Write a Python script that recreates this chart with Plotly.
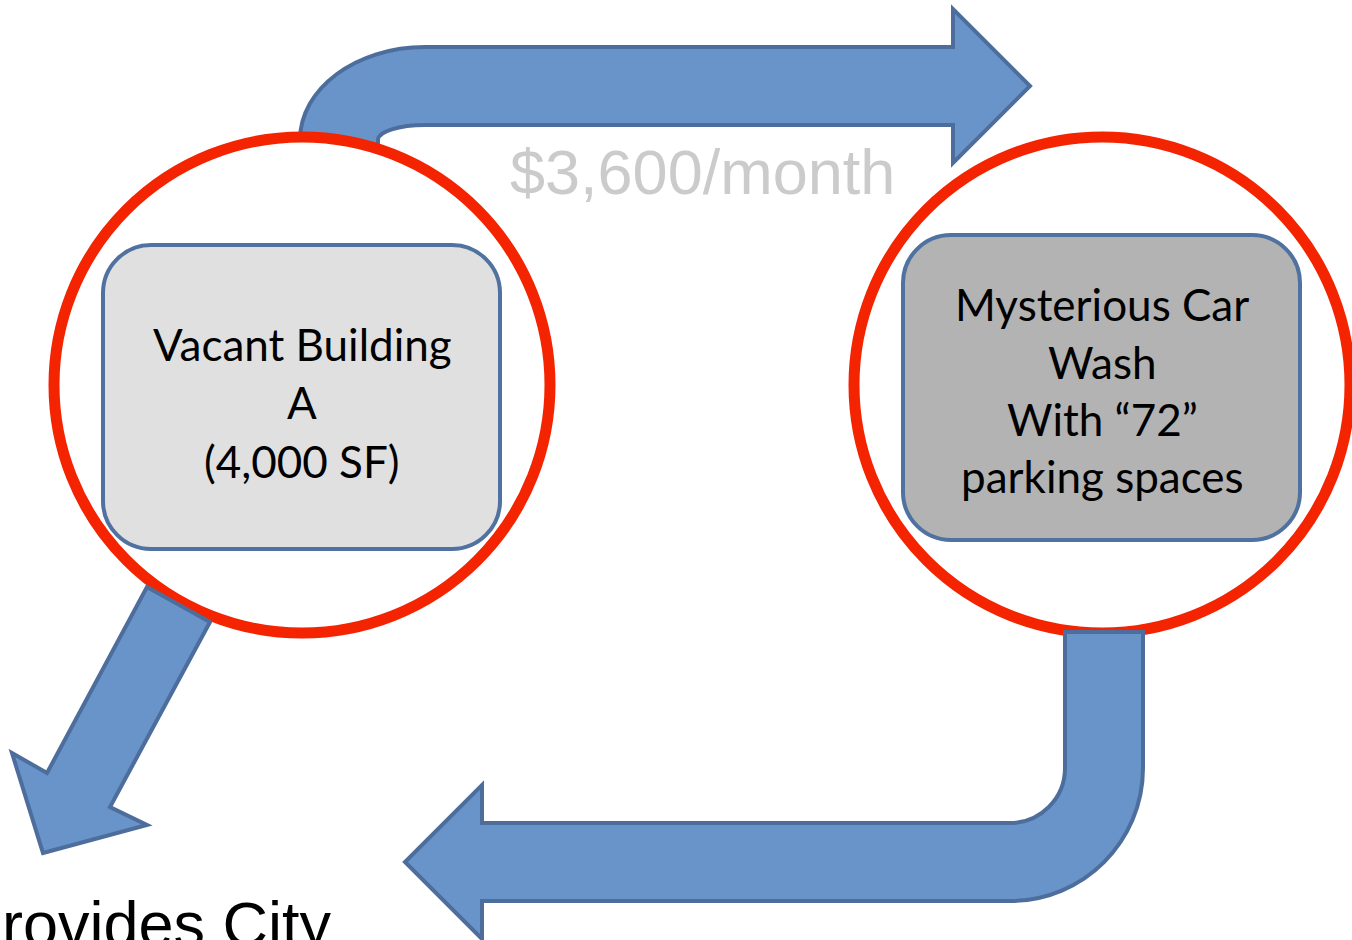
import numpy as np
import plotly.graph_objects as go

# ---- text content ----
left_lines = ["Vacant Building", "A", "(4,000 SF)"]
right_lines = ["Mysterious Car", "Wash", "With “72”", "parking spaces"]
rent_label = "$3,600/month"
bottom_label = "Provides City"

# ---- layout geometry (pixel space, y downward) ----
W, H = 1352, 940
left_center = (302, 385)
right_center = (1102, 385)
circle_r = 248
left_box = (103, 245, 500, 549)
right_box = (903, 235, 1300, 540)
box_r = 48
left_line_y = [344, 402, 461]
right_line_y = [304, 362, 419, 476]

ARROW_FILL = "#6894C9"
ARROW_LINE = "#4D6E9C"
RED = "#F42300"
BOX_LINE = "#4F72A0"
K = 0.5523


def rounded_rect(x0, y0, x1, y1, r):
    k = r * (1 - K)
    return (f"M {x0+r},{y0} H {x1-r} C {x1-k},{y0} {x1},{y0+k} {x1},{y0+r} "
            f"V {y1-r} C {x1},{y1-k} {x1-k},{y1} {x1-r},{y1} "
            f"H {x0+r} C {x0+k},{y1} {x0},{y1-k} {x0},{y1-r} "
            f"V {y0+r} C {x0},{y0+k} {x0+k},{y0} {x0+r},{y0} Z")


# top curved arrow (elliptical bend, lower part hidden behind circle)
ecx, ecy, rxo, ryo, rxi, ryi = 425, 140, 125, 93, 47, 15
top_arrow = (f"M {ecx-rxo},260 V {ecy} "
             f"C {ecx-rxo},{ecy-ryo*K} {ecx-rxo*K},{ecy-ryo} {ecx},{ecy-ryo} "
             f"H 953 V 9 L 1030,86 L 953,163 V {ecy-ryi} H {ecx} "
             f"C {ecx-rxi*K},{ecy-ryi} {ecx-rxi},{ecy-ryi*K} {ecx-rxi},{ecy} "
             f"V 260 Z")

# bottom-left diagonal arrow
diag_arrow = "M 147,587 L 210,622 L 110,807 L 147,825 L 43,853 L 12,753 L 47,773 Z"

# bottom U-bend arrow
bcx, bcy, ro, ri = 1010, 768, 133, 55
bottom_arrow = (f"M {bcx+ri},632 H {bcx+ro} V {bcy} "
                f"C {bcx+ro},{bcy+ro*K} {bcx+ro*K},{bcy+ro} {bcx},{bcy+ro} "
                f"H 482 V 939 L 405,862 L 482,785 V {bcy+ri} H {bcx} "
                f"C {bcx+ri*K},{bcy+ri} {bcx+ri},{bcy+ri*K} {bcx+ri},{bcy} Z")

shapes = []
shapes.append(dict(type="path", path=top_arrow, fillcolor=ARROW_FILL,
                   line=dict(color=ARROW_LINE, width=4), layer="above"))
for cx, cy in (left_center, right_center):
    shapes.append(dict(type="circle", x0=cx - circle_r, x1=cx + circle_r,
                       y0=cy - circle_r, y1=cy + circle_r, fillcolor="white",
                       line=dict(color=RED, width=11), layer="above"))
shapes.append(dict(type="path", path=rounded_rect(*left_box, box_r), fillcolor="#E0E0E0",
                   line=dict(color=BOX_LINE, width=4), layer="above"))
shapes.append(dict(type="path", path=rounded_rect(*right_box, box_r), fillcolor="#B3B3B3",
                   line=dict(color=BOX_LINE, width=4), layer="above"))
shapes.append(dict(type="path", path=diag_arrow, fillcolor=ARROW_FILL,
                   line=dict(color=ARROW_LINE, width=4), layer="above"))
shapes.append(dict(type="path", path=bottom_arrow, fillcolor=ARROW_FILL,
                   line=dict(color=ARROW_LINE, width=4), layer="above"))

box_font = dict(family="Lato", size=44, color="black")
annotations = []
for txt, y in zip(left_lines, left_line_y):
    annotations.append(dict(x=left_center[0], y=y, text=txt, showarrow=False,
                            xanchor="center", yanchor="middle", font=box_font))
for txt, y in zip(right_lines, right_line_y):
    annotations.append(dict(x=right_center[0], y=y, text=txt, showarrow=False,
                            xanchor="center", yanchor="middle", font=box_font))
annotations.append(dict(x=702, y=172, text=rent_label, showarrow=False,
                        xanchor="center", yanchor="middle",
                        font=dict(family="Liberation Sans, Arial", size=63, color="#CBCBCB")))
annotations.append(dict(x=0, y=887, text=bottom_label, showarrow=False,
                        xanchor="left", yanchor="top", xshift=-42,
                        font=dict(family="Liberation Sans, Arial", size=63, color="black")))

fig = go.Figure()
fig.update_layout(
    width=W, height=H, autosize=False,
    margin=dict(l=0, r=0, t=0, b=0, pad=0),
    paper_bgcolor="white", plot_bgcolor="white",
    xaxis=dict(range=[0, W], visible=False, showgrid=False, zeroline=False, fixedrange=True),
    yaxis=dict(range=[H, 0], visible=False, showgrid=False, zeroline=False, fixedrange=True),
    shapes=shapes, annotations=annotations, showlegend=False,
)
fig.write_html("out.html", config=dict(displayModeBar=False),
               post_script="document.body.style.margin='0';document.body.style.overflow='hidden';")
